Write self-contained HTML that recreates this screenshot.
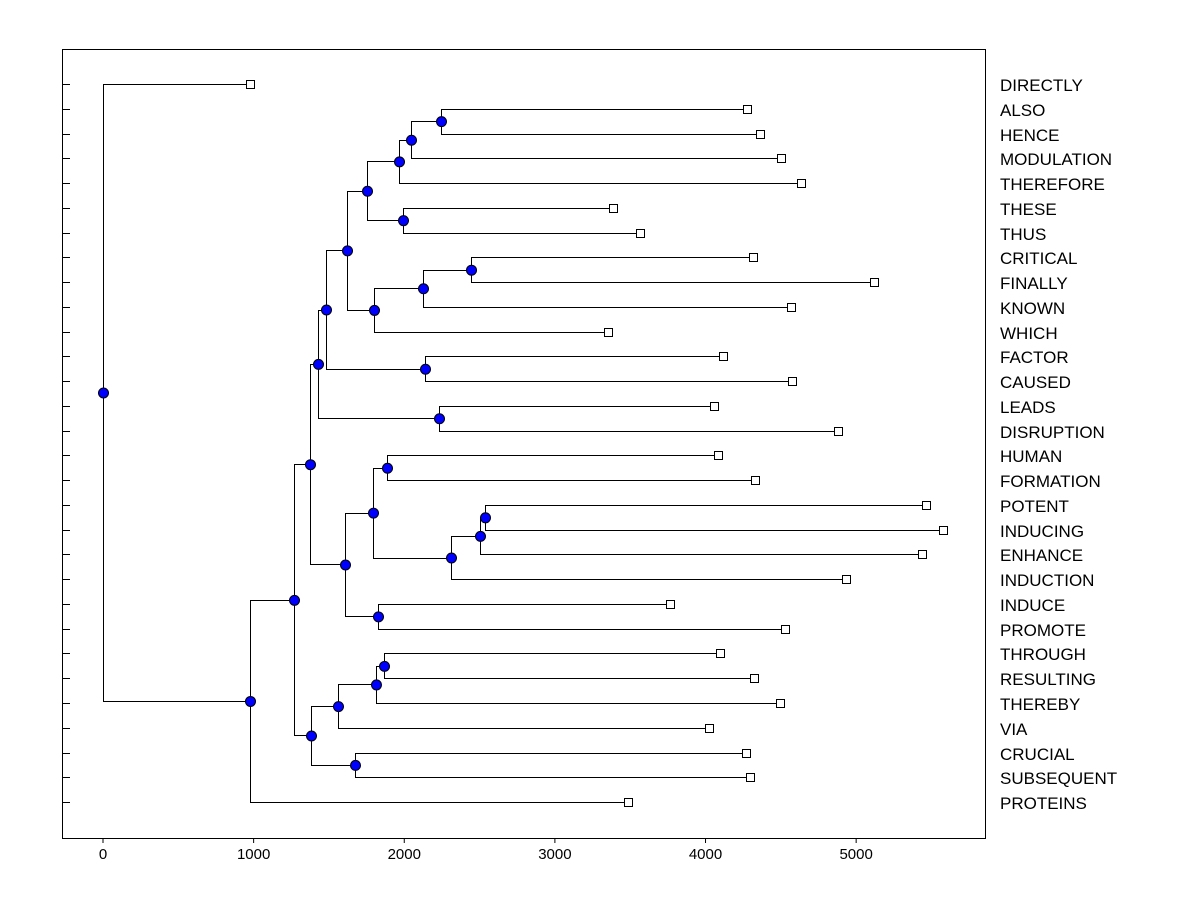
<!DOCTYPE html>
<html><head><meta charset="utf-8"><style>
html,body{margin:0;padding:0;background:#fff;}
svg{display:block;font-family:"Liberation Sans",Arial,sans-serif;}
</style></head><body>
<svg id="chart" width="1200" height="900" viewBox="0 0 1200 900"></svg>
<script>
const leafNames = ["DIRECTLY","ALSO","HENCE","MODULATION","THEREFORE","THESE","THUS","CRITICAL","FINALLY","KNOWN","WHICH","FACTOR","CAUSED","LEADS","DISRUPTION","HUMAN","FORMATION","POTENT","INDUCING","ENHANCE","INDUCTION","INDUCE","PROMOTE","THROUGH","RESULTING","THEREBY","VIA","CRUCIAL","SUBSEQUENT","PROTEINS"];
const leafValues = [976,4276,4363,4502,4635,3386,3566,4316,5120,4568,3353,4117,4575,4057,4880,4084,4329,5465,5578,5438,4934,3765,4529,4097,4323,4495,4024,4270,4296,3486];
const mergeLeft  = [1,30,31,5,32,7,35,36,34,11,38,13,40,15,17,44,45,43,21,47,42,23,51,52,27,53,50,56,0];
const mergeRight = [2,3,4,6,33,8,9,10,37,12,39,14,41,16,18,19,20,46,22,48,49,24,25,26,28,54,55,29,57];
const mergeValues = [2244,2045,1965,1992,1753,2444,2125,1799,1620,2138,1481,2231,1428,1886,2537,2503,2311,1793,1826,1607,1375,1866,1813,1560,1673,1381,1268,976,0];
const xTicks = [0,1000,2000,3000,4000,5000];

const NS="http://www.w3.org/2000/svg";
const svg=document.getElementById('chart');
const L=62,R=985,T=49,B=838;
const xs=v=>103+v*0.15063;
const ys=i=>84+i*24.76;
function mk(tag,attrs,parent){const e=document.createElementNS(NS,tag);for(const k in attrs)e.setAttribute(k,attrs[k]);(parent||svg).appendChild(e);return e;}

const frame=mk('rect',{x:L+0.5,y:T+0.5,width:R-L,height:B-T,fill:'none',stroke:'#000','stroke-width':1});



xTicks.forEach(t=>{
  const ln=mk('line',{x1:xs(t),x2:xs(t),y1:B,y2:B+5,stroke:'#000'});
  
  
  const tx=mk('text',{x:xs(t),y:B+21,'text-anchor':'middle','font-size':15});
  tx.textContent=t;
  
  
});

const nx=[],ny=[];
leafValues.forEach((v,i)=>{nx[i]=v;ny[i]=ys(i);});
mergeValues.forEach((v,k)=>{const id=30+k;nx[id]=v;ny[id]=(ny[mergeLeft[k]]+ny[mergeRight[k]])/2;});

const g=mk('g',{stroke:'#000','stroke-width':1,fill:'none'});


mergeValues.forEach((v,k)=>{
  const px=Math.round(xs(v))+0.5,a=mergeLeft[k],b=mergeRight[k];
  const p=mk('path',{d:`M${Math.round(xs(nx[a]))+0.5},${Math.round(ny[a])+0.5}H${px}V${Math.round(ny[b])+0.5}H${Math.round(xs(nx[b]))+0.5}`},g);
  
  
});

leafNames.forEach((n,i)=>{
  const y=Math.round(ys(i))+0.5;
  const tk=mk('line',{x1:L,x2:L+8,y1:y,y2:y,stroke:'#000'});
  
  
  const sq=mk('rect',{x:Math.round(xs(leafValues[i]))-3.5,y:y-4,width:8,height:8,fill:'#fff',stroke:'#000'});
  
  
  const tx=mk('text',{x:1000,y:y+6.5,'font-size':17});
  tx.textContent=n;
  
  
});

mergeValues.forEach((v,k)=>{
  const c=mk('circle',{cx:Math.round(xs(v))+0.5,cy:ny[30+k]+0.5,r:5,fill:'#0000ff',stroke:'#000'});
  
  
});
</script>
</body></html>
